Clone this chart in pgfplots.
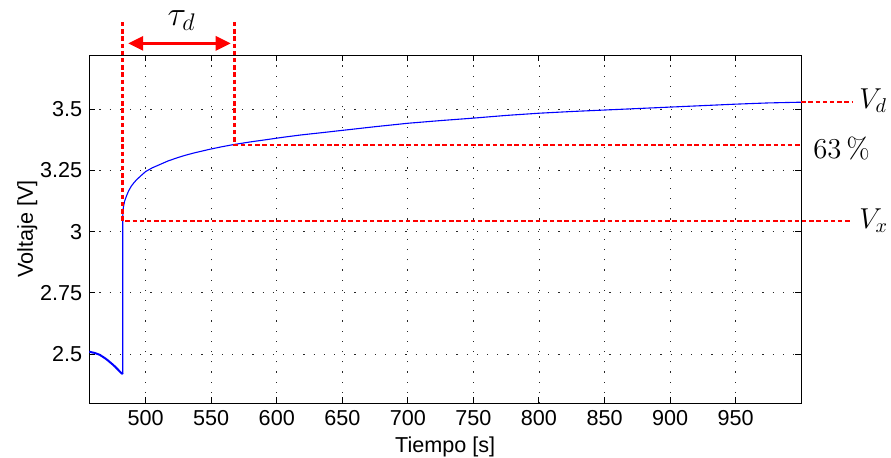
\documentclass[border=0pt]{standalone}
\usepackage{fontspec}
\newfontfamily\arial{Liberation Sans}
\usepackage{pgfplots}
\usepackage{pgfplotstable}
\pgfplotsset{compat=1.18}
\usetikzlibrary{arrows.meta}

\pgfplotstableread{
x y
457 2.510
459 2.507
461 2.505
463 2.501
465 2.497
467 2.490
469 2.483
471 2.475
473 2.466
475 2.457
477 2.447
479 2.436
481 2.425
482.5 2.418
}\predata

\pgfplotstableread{
x y
482.5 2.418
482.5 3.060
483 3.100
484 3.125
485.5 3.147
487 3.166
489 3.185
491 3.199
493 3.211
496 3.226
500 3.245
505 3.260
511 3.274
517 3.288
524 3.301
530 3.311
537 3.321
549 3.336
558 3.346
567 3.355
580 3.366
592 3.375
605 3.385
618 3.394
635 3.404
650 3.413
675 3.428
700 3.442
725 3.453
750 3.463
775 3.474
800 3.483
825 3.490
850 3.496
875 3.502
900 3.508
925 3.514
950 3.520
975 3.525
1000 3.528
}\postdata

\begin{document}
\begin{tikzpicture}
\begin{axis}[
  scale only axis, width=356pt, height=174pt,
  xmin=457, xmax=1000, ymin=2.3, ymax=3.72,
  xtick={500,550,...,950},
  xticklabels={500,550,600,650,700,750,800,850,900,950},
  ytick={2.5,2.75,3,3.25,3.5},
  yticklabels={2.5,2.75,3,3.25,3.5},
  tick label style={font=\arial\fontsize{10.8}{13}\selectfont},
  label style={font=\arial\fontsize{10.8}{13}\selectfont},
  xlabel={Tiempo [s]}, ylabel={Voltaje [V]},
  ylabel style={yshift=-5.5pt},
  xlabel style={yshift=1pt},
  grid=major,
  grid style={black!85, line width=0.4pt, dash pattern=on 0.6pt off 4.5pt},
  tick align=inside, major tick length=3pt,
  tick style={black, line width=0.5pt},
  axis line style={line width=0.6pt},
  clip=false,
]
\addplot[blue, line width=1pt] table[x=x,y=y] {\predata};
\addplot[blue, line width=0.55pt] table[x=x,y=y] {\postdata};

\addplot[red, line width=1.4pt, dash pattern=on 2.2pt off 1.4pt] coordinates {(482.5,3.855) (482.5,3.043) (1038.8,3.043)};
\addplot[red, line width=1.4pt, dash pattern=on 2.2pt off 1.4pt] coordinates {(567.6,3.855) (567.6,3.353) (1000,3.353)};
\addplot[red, line width=1.4pt, dash pattern=on 2.2pt off 1.4pt] coordinates {(1000,3.529) (1038.8,3.529)};

\draw[red, line width=1.4pt, {Triangle[length=7.5pt,width=7pt]}-{Triangle[length=7.5pt,width=7pt]}] (axis cs:486.7,3.768) -- (axis cs:564.9,3.768);

\node[anchor=base west, inner sep=0pt, font=\LARGE] at (axis cs:516.5,3.843) {$\tau_d$};
\node[anchor=base west, inner sep=0pt, font=\Large] at (axis cs:1044,3.503) {$V_d$};
\node[anchor=base west, inner sep=0pt, font=\Large] at (axis cs:1009,3.30) {$63\,\%$};
\node[anchor=base west, inner sep=0pt, font=\Large] at (axis cs:1044,3.013) {$V_x$};

\coordinate (bbl) at (axis cs:388.9,2.08);
\coordinate (btr) at (axis cs:1068.5,3.945);
\end{axis}
\pgfresetboundingbox
\useasboundingbox (bbl) rectangle (btr);
\end{tikzpicture}
\end{document}
